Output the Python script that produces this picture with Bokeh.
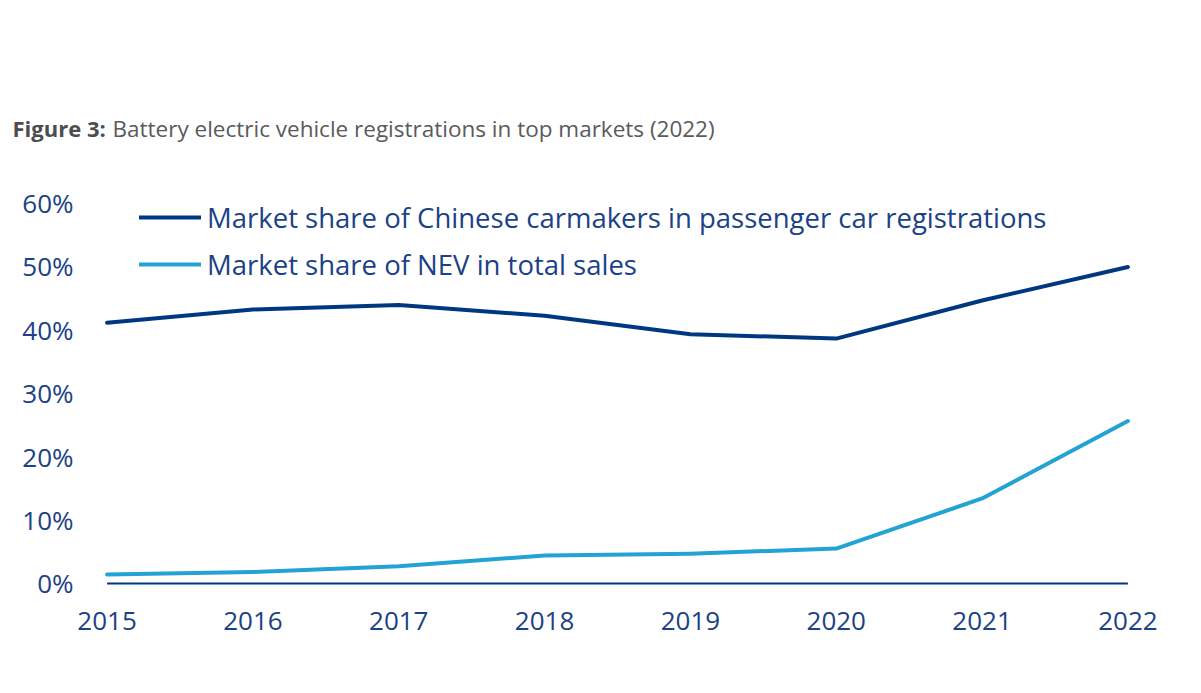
from bokeh.plotting import figure
from bokeh.models import Range1d, FixedTicker, Title, Legend, LegendItem, CustomJSTickFormatter
from bokeh.embed import file_html
from bokeh.resources import INLINE

years = [2015, 2016, 2017, 2018, 2019, 2020, 2021, 2022]
chinese_share = [41.1, 43.2, 43.9, 42.2, 39.3, 38.6, 44.6, 49.9]
nev_share = [1.4, 1.8, 2.7, 4.4, 4.7, 5.5, 13.4, 25.6]
y_ticks = [0, 10, 20, 30, 40, 50, 60]
series_names = ["Market share of Chinese carmakers in passenger car registrations",
                "Market share of NEV in total sales"]
title_bold = "Figure 3:"
title_rest = "Battery electric vehicle registrations in top markets (2022)"

DARK = "#003781"
LIGHT = "#22a3d4"
TEXT = "#1b4186"
FONT = "Open Sans"

p = figure(width=1201, height=693, output_backend="svg", toolbar_location=None,
           x_range=Range1d(2014.9, 2022.1), y_range=Range1d(-3, 64),
           min_border_left=92, min_border_right=59, min_border_top=177, min_border_bottom=91)
p.outline_line_color = None
p.xgrid.visible = False
p.ygrid.visible = False
p.background_fill_color = "white"
p.border_fill_color = "white"

for ax in (p.xaxis[0], p.yaxis[0]):
    ax.axis_line_color = None
    ax.major_tick_line_color = None
    ax.minor_tick_line_color = None
    ax.major_label_text_font = FONT
    ax.major_label_text_font_size = "26px"
    ax.major_label_text_color = TEXT

p.xaxis.ticker = FixedTicker(ticks=years)
p.xaxis.major_label_standoff = 3
p.yaxis.ticker = FixedTicker(ticks=y_ticks)
p.yaxis.formatter = CustomJSTickFormatter(code="return tick.toFixed(0) + '%';")
p.yaxis.major_label_standoff = 13

# baseline at 0%
p.line([years[0], years[-1]], [0, 0], line_color=DARK, line_width=2)

r1 = p.line(years, chinese_share, line_color=DARK, line_width=4, line_join="round", line_cap="round")
r2 = p.line(years, nev_share, line_color=LIGHT, line_width=4, line_join="round", line_cap="round")

legend = Legend(items=[LegendItem(label=series_names[0], renderers=[r1]),
                       LegendItem(label=series_names[1], renderers=[r2])],
                location=(47, 318), orientation="vertical",
                glyph_width=62, glyph_height=40, label_height=40, spacing=7,
                label_standoff=6, padding=0, margin=0,
                border_line_color=None, background_fill_alpha=0,
                label_text_font=FONT, label_text_font_size="27.5px",
                label_text_color=TEXT)
p.add_layout(legend)

# Title: bold part + regular part on the same line
p.title.text = title_bold
p.title.align = "left"
p.title.vertical_align = "top"
p.title.offset = -80
p.title.standoff = -130
p.title.text_font = FONT
p.title.text_font_size = "22px"
p.title.text_font_style = "bold"
p.title.text_color = "#4d4d4f"

t2 = Title(text=title_rest, align="left", vertical_align="top", offset=20, standoff=-130,
           text_font=FONT, text_font_size="22.5px", text_font_style="normal",
           text_color="#5a5a5c")
p.add_layout(t2, "above")

open("out.html", "w").write(file_html(p, INLINE))
